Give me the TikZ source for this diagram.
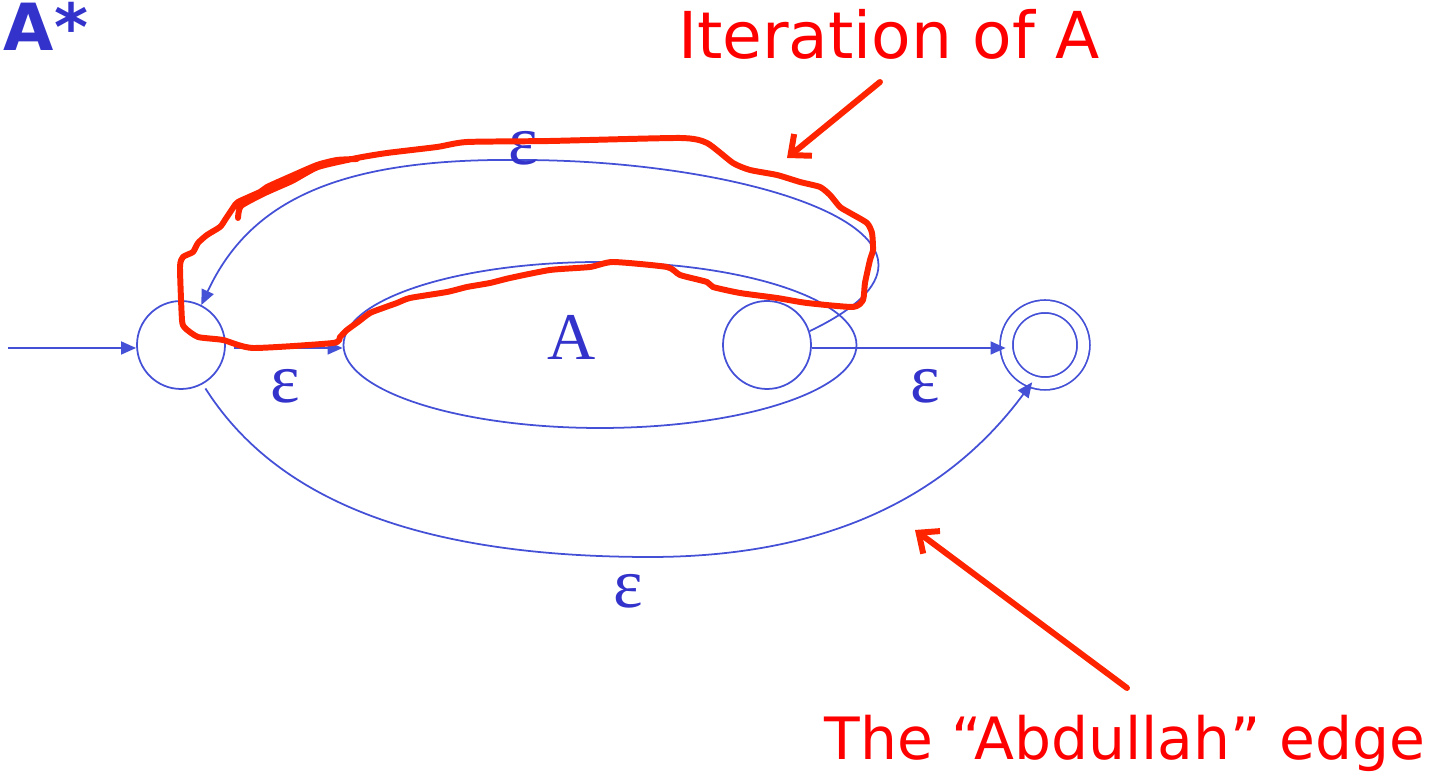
\documentclass[tikz,border=0pt]{standalone}
\usepackage{fontspec}
\setmainfont{Liberation Serif}
\newfontfamily\handfont{DejaVu Sans}
\usetikzlibrary{shapes.geometric, arrows.meta, positioning}
\definecolor{lineblue}{RGB}{68,80,214}
\definecolor{textblue}{RGB}{51,51,204}
\definecolor{inkred}{RGB}{255,36,0}
\definecolor{notered}{RGB}{255,0,0}
\tikzset{
	stnode/.style={circle, draw=lineblue, line width=0.5pt, minimum size=8.8mm, inner sep=0pt}
}
\tikzset{
	epstext/.style={font=\fontsize{20}{20}\selectfont\color{textblue}, anchor=base, inner sep=0pt}
}
\tikzset{
	notetext/.style={font=\handfont\fontsize{18.4}{20}\selectfont\color{notered}, anchor=base, inner sep=0pt}
}
\tikzset{
	blueedge/.style={draw=lineblue, line width=0.5pt, -{Triangle[length=4.3pt, width=3.7pt]}},
	redarrow/.style={draw=inkred, line width=1.7pt, line cap=round, -{Straight Barb[length=4.6pt, width=8pt]}},
	scribble/.style={draw=inkred, line width=1.7pt, line join=round, line cap=round}
}

\begin{document}
\begin{tikzpicture}[x=0.1mm, y=-0.1mm]
  \useasboundingbox (0,0) rectangle (1444,777);
  \node[font=\handfont\bfseries\fontsize{18.5}{18}\selectfont\color{textblue}, anchor=base west, inner sep=0pt] (title) at (3,51) {A*};
  % states
  \node[stnode] (s0) at (181,345) {};
  \node[ellipse, draw=lineblue, line width=0.5pt, minimum width=51.3mm, minimum height=16.6mm] (Abox) at (600,345) {};
  \node[stnode] (f) at (767,345) {};
  \node[stnode, double, double distance=1.1mm, minimum size=7.7mm] (acc) at (1045,345) {};
  \node[font=\fontsize{19}{19}\selectfont\color{textblue}, anchor=base, inner sep=0pt] (Alabel) at (572,360) {A};
  % edges
  \coordinate (start) at (8,348);
  \draw[blueedge] (start) -- ([yshift=-0.3mm]s0.west);
  \draw[blueedge, shorten <=0.8mm] ([yshift=-0.3mm]s0.east) -- ([yshift=-0.3mm]Abox.west);
  \draw[blueedge] ([yshift=-0.3mm]f.east) -- ([yshift=-0.3mm]acc.west);
  \draw[blueedge] (f.18) .. controls (1000,240) and (760,160) .. (520,160)
    .. controls (340,158) and (250,200) .. (s0.63);
  \draw[blueedge, shorten <=0.5mm] (s0.-61) .. controls (270,490) and (400,557) .. (650,557)
    .. controls (850,557) and (960,480) .. (acc.-109);
  \node[epstext] (e1) at (285,403) {ε};
  \node[epstext] (e2) at (523,165) {ε};
  \node[epstext] (e3) at (925,403) {ε};
  \node[epstext] (e4) at (628,608) {ε};
  % red notes
  \node[notetext] (iter) at (889,59) {Iteration of A};
  \node[notetext, font=\handfont\fontsize{16.6}{20}\selectfont\color{notered}] (abd) at (1125,760) {The “Abdullah” edge};
  \coordinate (itertail) at (880,82);
  \coordinate (iterhead) at (787,158);
  \coordinate (abdtail) at (1127,688);
  \coordinate (abdhead) at (915,530);
  \draw[redarrow] (itertail) -- (iterhead);
  \draw[redarrow] (abdtail) -- (abdhead);
  \draw[scribble] plot[smooth, tension=0.35] coordinates {
    (238,218) (241,206) (265,193) (292,181) (318,167) (357,158) (387,153) (437,147)
    (467,142) (550,141) (680,138) (707,143) (733,163) (750,170) (777,175) (800,182)
    (820,187) (830,195) (840,207) (850,213) (867,223) (872,233) (873,250) (870,260)
    (865,283) (863,300) (853,307) (807,303) (777,298) (740,293) (713,287) (707,282)
    (680,275) (667,267) (613,262) (590,267) (550,270) (510,278) (490,283) (467,287)
    (447,292) (410,298) (397,303) (383,308) (370,313) (358,322) (347,330) (340,337)
    (333,343) (253,348) (223,340) (198,337) (185,328) (182,320) (180,267) (183,257)
    (193,252) (198,243) (207,235) (220,227) (225,220) (233,208) (238,202) (260,192)
    (267,187) (287,178) (317,165) (337,160) (357,159)};
\end{tikzpicture}
\end{document}
